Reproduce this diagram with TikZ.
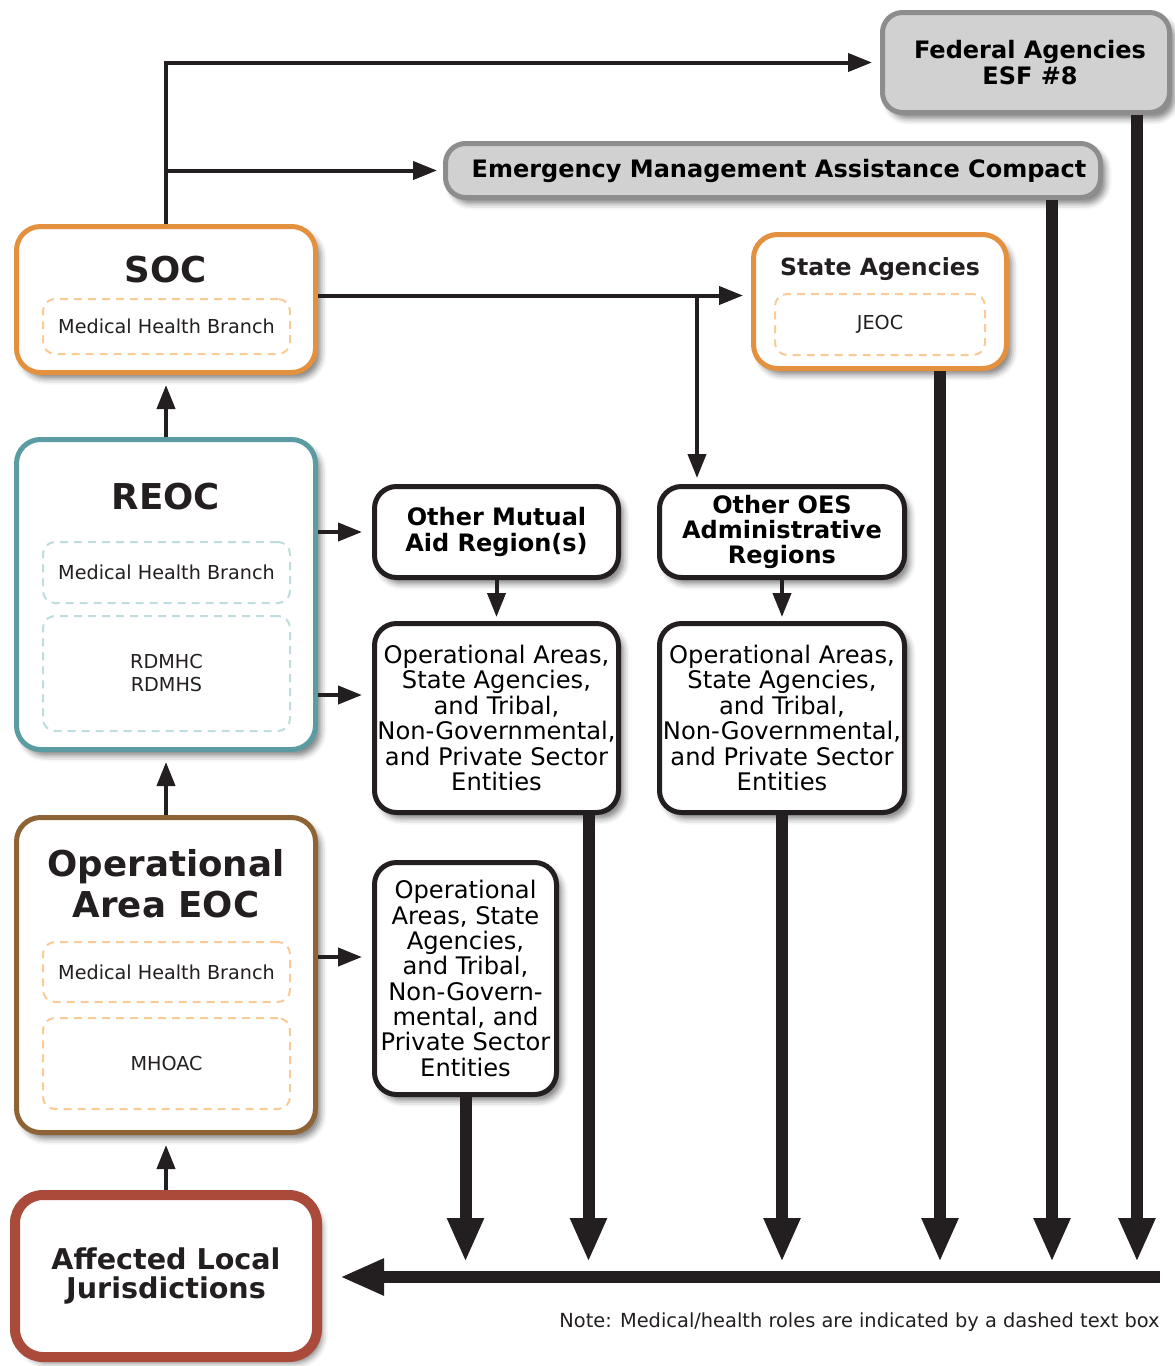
\documentclass[tikz,border=0pt]{standalone}
\usepackage{fontspec}
\setmainfont{DejaVu Sans}
\usetikzlibrary{arrows.meta,shadows.blur}
\definecolor{ink}{HTML}{231F20}
\definecolor{socorange}{HTML}{E4913F}
\definecolor{dashorange}{HTML}{F9CB96}
\definecolor{reocteal}{HTML}{5B9CA3}
\definecolor{dashteal}{HTML}{BFDCDE}
\definecolor{oabrown}{HTML}{8E6436}
\definecolor{localred}{HTML}{A94A3A}
\definecolor{fedgray}{HTML}{D1D1D1}
\definecolor{fedborder}{HTML}{8D8D8D}
\tikzset{
  eocbox/.style={draw, fill=white, line width=2.5pt, rounded corners=12pt,
    inner sep=0pt, align=center,
    blur shadow={shadow xshift=2.5pt, shadow yshift=-3pt,
      shadow blur radius=3pt, shadow opacity=50}},
  graybox/.style={eocbox, draw=fedborder, fill=fedgray, rounded corners=10pt,
    font=\bfseries\fontsize{12}{13}\selectfont},
  entitybox/.style={eocbox, draw=ink, rounded corners=11pt},
  eoctitle/.style={align=center, text=ink, font=\bfseries\fontsize{17.8}{20.5}\selectfont},
  dashbox/.style={draw, line width=1pt, dash pattern=on 4pt off 3pt,
    rounded corners=6pt, inner sep=0pt, align=center, text=ink,
    font=\fontsize{9.6}{11.5}\selectfont},
  thinarrow/.style={draw=ink, line width=2pt, -{Triangle[length=12pt,width=9pt]}},
  thickarrow/.style={draw=ink, line width=6pt, -{Triangle[length=22pt,width=17pt]}}
}
\begin{document}
\begin{tikzpicture}[x=0.5pt,y=-0.5pt]
\useasboundingbox (0,0) rectangle (1174,1366);

\node[graybox, minimum width=143.5pt, minimum height=50pt] (fed) at (1026,62.5)
  {\hspace*{4pt}Federal Agencies\\\hspace*{4pt}ESF \#8};
\node[graybox, minimum width=327.5pt, minimum height=27pt] (emac) at (773,170.5)
  {\hspace*{6pt}Emergency Management Assistance Compact};

\node[eocbox, draw=socorange, minimum width=149.5pt, minimum height=73pt] (soc) at (166,299.5) {};
\node[eoctitle] (soctitle) at (166,270) {SOC};
\node[dashbox, draw=dashorange, minimum width=123.5pt, minimum height=27.5pt] (socmed) at (166.5,326.5)
  {Medical Health Branch};

\node[eocbox, draw=socorange, minimum width=126.5pt, minimum height=67pt] (state) at (880,301.5) {};
\node[text=ink, font=\bfseries\fontsize{11.8}{13}\selectfont] (statetitle) at (880,269) {State Agencies};
\node[dashbox, draw=dashorange, minimum width=105pt, minimum height=30.5pt] (jeoc) at (880,324.5) {JEOC};

\node[eocbox, draw=reocteal, minimum width=149.5pt, minimum height=155pt] (reoc) at (166,594.5) {};
\node[eoctitle] (reoctitle) at (166,497) {REOC};
\node[dashbox, draw=dashteal, minimum width=123.5pt, minimum height=30.5pt] (reocmed) at (166.5,572.5)
  {Medical Health Branch};
\node[dashbox, draw=dashteal, minimum width=123.5pt, minimum height=57.5pt] (rdmhc) at (166.5,673.5)
  {RDMHC\\RDMHS};

\node[entitybox, minimum width=122pt, minimum height=45.5pt, font=\bfseries\fontsize{12}{13}\selectfont]
  (mutual) at (496.5,532) {Other Mutual\\Aid Region(s)};
\node[entitybox, minimum width=122.5pt, minimum height=45.5pt, font=\bfseries\fontsize{12}{12.5}\selectfont]
  (oes) at (782,532) {Other OES\\Administrative\\Regions};
\node[entitybox, minimum width=122pt, minimum height=94.5pt, font=\fontsize{12.1}{12.7}\selectfont]
  (ops1) at (496.5,718) {Operational Areas,\\State Agencies,\\and Tribal,\\Non-Governmental,\\and Private Sector\\Entities};
\node[entitybox, minimum width=122.5pt, minimum height=94.5pt, font=\fontsize{12.1}{12.7}\selectfont]
  (ops2) at (782,718) {Operational Areas,\\State Agencies,\\and Tribal,\\Non-Governmental,\\and Private Sector\\Entities};
\node[entitybox, minimum width=91pt, minimum height=116pt, font=\fontsize{12.1}{12.65}\selectfont]
  (ops3) at (465.5,978.5) {Operational\\Areas, State\\Agencies,\\and Tribal,\\Non-Govern-\\mental, and\\Private Sector\\Entities};

\node[eocbox, draw=oabrown, minimum width=149.5pt, minimum height=157.5pt] (oaeoc) at (166,975) {};
\node[eoctitle] (oatitle) at (166,884) {Operational\\Area EOC};
\node[dashbox, draw=dashorange, minimum width=123.5pt, minimum height=30pt] (oamed) at (166.5,972)
  {Medical Health Branch};
\node[dashbox, draw=dashorange, minimum width=123.5pt, minimum height=45.5pt] (mhoac) at (166.5,1063.5)
  {MHOAC};

\node[eocbox, draw=localred, line width=5pt, rounded corners=14pt, minimum width=151pt, minimum height=81pt,
  text=ink, font=\bfseries\fontsize{14.3}{14.5}\selectfont] (local) at (166,1276) {Affected Local\\Jurisdictions};

\node[anchor=east, inner sep=0pt, text=ink, font=\fontsize{9.7}{11}\selectfont] (note) at (1160,1322)
  {Note: Medical/health roles are indicated by a dashed text box};

\draw[thinarrow, shorten >=4pt] (soc.north) |- (fed.west);
\draw[thinarrow, shorten >=3pt] (soc.north |- emac.west) -- (emac.west);
\draw[thinarrow, shorten >=4pt] ([yshift=2pt]soc.east) -- ([yshift=2pt]soc.east -| state.west);
\coordinate (split) at (697,295.5);
\draw[thinarrow, shorten >=3pt] (split) -- (split |- oes.north);
\draw[thinarrow, shorten >=5pt] (reoc.north) -- (soc.south);
\draw[thinarrow, shorten >=5pt] (reoc.east |- mutual.west) -- (mutual.west);
\draw[thinarrow, shorten >=5pt] ([yshift=11.5pt]reoc.east |- ops1.west) -- ([yshift=11.5pt]ops1.west);
\draw[thinarrow, shorten >=2pt] (mutual.south) -- (ops1.north);
\draw[thinarrow, shorten >=2pt] (oes.south) -- (ops2.north);
\draw[thinarrow, shorten >=5pt] (oaeoc.north) -- (reoc.south);
\draw[thinarrow, shorten >=5pt] ([yshift=10.75pt]oaeoc.east |- ops3.west) -- ([yshift=10.75pt]ops3.west);
\draw[thinarrow, shorten >=5pt] (local.north) -- (oaeoc.south);

\coordinate (tips) at (0,1262);
\coordinate (bus) at (1160,1277);
\draw[thickarrow] (ops3.south) -- (ops3.south |- tips);
\draw[thickarrow] ([xshift=46pt]ops1.south) -- ([xshift=46pt]ops1.south |- tips);
\draw[thickarrow] (ops2.south) -- (ops2.south |- tips);
\draw[thickarrow] ([xshift=30pt]state.south) -- ([xshift=30pt]state.south |- tips);
\draw[thickarrow] ([xshift=139.5pt]emac.south) -- ([xshift=139.5pt]emac.south |- tips);
\draw[thickarrow] ([xshift=55.5pt]fed.south) -- ([xshift=55.5pt]fed.south |- tips);
\draw[thickarrow, shorten >=9pt] (bus) -- (bus -| local.east);
\end{tikzpicture}
\end{document}
